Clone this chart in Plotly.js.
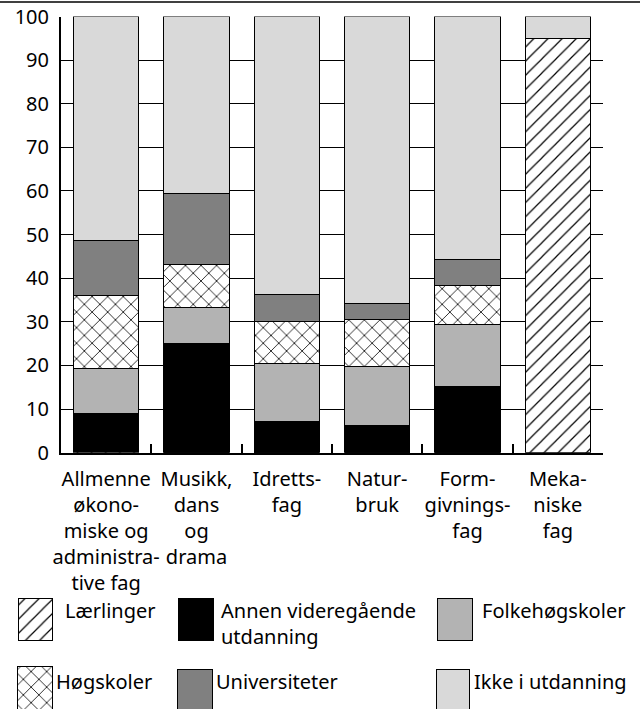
<!DOCTYPE html>
<html><head><meta charset="utf-8">
<script src="https://cdn.plot.ly/plotly-3.0.1.min.js"></script>
<style>html,body{margin:0;padding:0;background:#fff}</style>
</head><body><div id="chart" style="width:640px;height:709px"></div>
<script>
// ---- data ----
const categories = [
  "Allmenne<br>økono-<br>miske og<br>administra-<br>tive fag",
  "Musikk,<br>dans<br>og<br>drama",
  "Idretts-<br>fag",
  "Natur-<br>bruk",
  "Form-<br>givnings-<br>fag",
  "Meka-<br>niske<br>fag"
];
const seriesNames = ["Lærlinger", "Annen videregående utdanning", "Folkehøgskoler", "Høgskoler", "Universiteter", "Ikke i utdanning"];
const legendLabels = ["Lærlinger", "Annen videregående<br>utdanning", "Folkehøgskoler", "Høgskoler", "Universiteter", "Ikke i utdanning"];
const laerlinger   = [0.3, 0, 0, 0, 0, 94.9];
const annen        = [8.7, 25.1, 7.2, 6.2, 15.1, 0];
const folkehogskoler = [10.4, 8.3, 13.2, 13.5, 14.3, 0];
const hogskoler    = [16.7, 9.7, 9.6, 10.8, 8.9, 0];
const universiteter = [12.6, 16.4, 6.2, 3.6, 5.9, 0];
const ikke         = [51.3, 40.5, 63.8, 65.9, 55.8, 5.1];
const yTickVals = [0, 10, 20, 30, 40, 50, 60, 70, 80, 90, 100];

// ---- styles ----
const seriesValues = [laerlinger, annen, folkehogskoler, hogskoler, universiteter, ikke];
const markers = [
  {color: "white", pattern: {shape: "/", size: 10, solidity: 0.12, fgcolor: "black", bgcolor: "white", fillmode: "replace"}},
  {color: "black"},
  {color: "#b3b3b3"},
  {color: "white", pattern: {shape: "x", size: 11, solidity: 0.14, fgcolor: "black", bgcolor: "white", fillmode: "replace"}},
  {color: "#808080"},
  {color: "#d9d9d9"}
];
const FONT = "Noto Sans, Open Sans, sans-serif";
const W = 640, H = 709;
const legTopFrac = 0.36;
// legend slot geometry (pixels)
const legSlots = [
  {x0: 18, x1: 52, y0: 598, y1: 640, tx: 64, ty: 610, row: 0},
  {x0: 178, x1: 213, y0: 598, y1: 640, tx: 220, ty: 623, row: 0},
  {x0: 437, x1: 472, y0: 598, y1: 640, tx: 481, ty: 610, row: 0},
  {x0: 17, x1: 52, y0: 666, y1: 720, tx: 55, ty: 681, row: 1},
  {x0: 177, x1: 212, y0: 669, y1: 720, tx: 215, ty: 681, row: 1},
  {x0: 436, x1: 469, y0: 669, y1: 720, tx: 473, ty: 681, row: 1}
];

const traces = [];
seriesNames.forEach((name, i) => {
  traces.push({
    type: "bar", name: name, x: categories, y: seriesValues[i],
    marker: Object.assign({}, markers[i], {line: {color: "black", width: 1}}),
    xaxis: "x", yaxis: "y", showlegend: false, hoverinfo: "name+y"
  });
});
// custom legend swatches
const annotations = [];
seriesNames.forEach((name, i) => {
  const s = legSlots[i];
  traces.push({
    type: "bar", name: name, x: [(s.x0 + s.x1) / 2], y: [s.y1 - s.y0], base: [s.y0],
    width: [s.x1 - s.x0],
    marker: Object.assign({}, markers[i], {line: {color: "black", width: 1}}),
    xaxis: "x2", yaxis: s.row === 0 ? "y2" : "y3", showlegend: false, hoverinfo: "skip"
  });
  annotations.push({
    text: legendLabels[i], xref: "x2", yref: "y2", x: s.tx, y: s.ty,
    xanchor: "left", yanchor: "middle", align: "left", showarrow: false,
    borderpad: 0, font: {family: FONT, size: 20, color: "black"}
  });
});

const legRange = [H, H * (1 - legTopFrac)];
const layout = {
  width: W, height: H,
  margin: {l: 0, r: 0, t: 0, b: 0},
  paper_bgcolor: "white", plot_bgcolor: "rgba(0,0,0,0)",
  barmode: "stack", bargap: 0.28,
  showlegend: false,
  font: {family: FONT, color: "black"},
  xaxis: {
    domain: [61 / W, 603 / W], type: "category", range: [-0.5, 5.5],
    showline: true, linecolor: "black", linewidth: 2,
    ticks: "inside", tickson: "boundaries", ticklen: 9, tickwidth: 2, tickcolor: "black",
    tickangle: 0, ticklabelstandoff: 7,
    showgrid: false, tickfont: {family: FONT, size: 20, color: "black"},
    fixedrange: true
  },
  yaxis: {
    domain: [(H - 452.7) / H, (H - 16.5) / H], range: [0, 100],
    tickvals: yTickVals, ticks: "", ticklabelstandoff: 6,
    showline: true, linecolor: "black", linewidth: 2,
    showgrid: true, gridcolor: "black", gridwidth: 1, zeroline: false,
    tickfont: {family: FONT, size: 20, color: "black"},
    fixedrange: true
  },
  xaxis2: {domain: [0, 1], range: [0, W], visible: false, anchor: "y2", fixedrange: true},
  yaxis2: {domain: [0, legTopFrac], range: legRange, visible: false, anchor: "x2", fixedrange: true},
  yaxis3: {domain: [0, legTopFrac], range: legRange, visible: false, anchor: "x2", overlaying: "y2", fixedrange: true},
  shapes: [
    {type: "line", xref: "paper", yref: "paper", x0: 0, x1: 1, y0: 1 - 2 / H, y1: 1 - 2 / H, line: {color: "black", width: 1.5}}
  ],
  annotations: annotations
};
Plotly.newPlot("chart", traces, layout, {displayModeBar: false, staticPlot: true});
</script></body></html>
